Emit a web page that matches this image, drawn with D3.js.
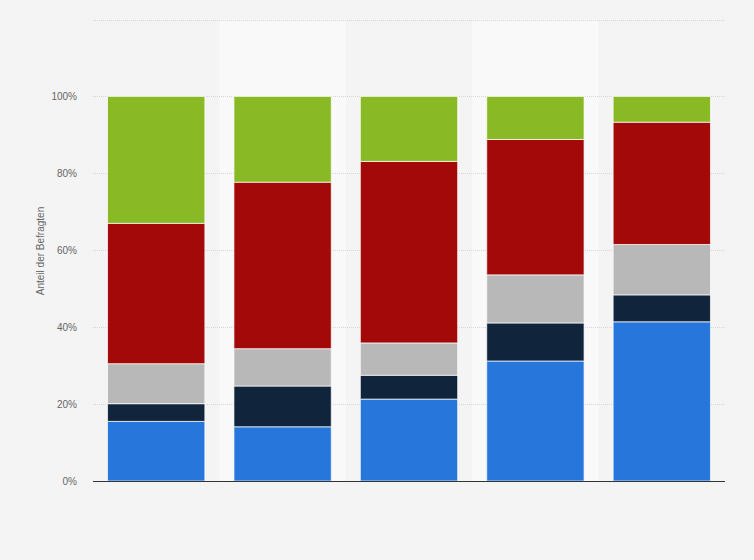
<!DOCTYPE html>
<html>
<head>
  <script src="https://d3js.org/d3.v7.min.js"></script>
  <style>
    body { margin: 0; background: #f4f4f4; }
    text { font-family: "Liberation Sans", Arial, sans-serif; }
  </style>
</head>
<body>
  <svg id="canvas" width="754" height="560"></svg>
  <script>
    // categories have no visible labels in the chart
    const categories = ["A", "B", "C", "D", "E"];
    const seriesNames = ["s1", "s2", "s3", "s4", "s5"];
    const seriesColors = ["#2776dc", "#10253b", "#b8b8b8", "#a30909", "#89b924"];
    // shares in percent, bottom to top
    const s1 = [15.5, 14.1, 21.3, 31.2, 41.4];
    const s2 = [4.6, 10.6, 6.2, 9.9, 7.0];
    const s3 = [10.4, 9.7, 8.4, 12.5, 13.1];
    const s4 = [36.5, 43.3, 47.2, 35.2, 31.8];
    const s5 = [33.0, 22.3, 16.9, 11.2, 6.7];
    const yTicks = [0, 20, 40, 60, 80, 100];

    const svg = d3.select("#canvas");
    const margin = { left: 93, right: 29, top: 19.5, bottom: 79 };
    const width = +svg.attr("width");
    const height = +svg.attr("height");

    const rows = categories.map((c, i) => ({
      cat: c, s1: s1[i], s2: s2[i], s3: s3[i], s4: s4[i], s5: s5[i]
    }));
    const stack = d3.stack().keys(seriesNames)(rows);

    const x = d3.scaleBand()
      .domain(categories)
      .range([margin.left, width - margin.right])
      .paddingInner(0.23)
      .paddingOuter(0.115);
    const y = d3.scaleLinear()
      .domain([0, 120])
      .range([height - margin.bottom, margin.top]);

    // alternating column bands
    const step = x.step();
    svg.append("g")
      .selectAll("rect")
      .data(categories.filter((d, i) => i % 2 === 1))
      .enter()
      .append("rect")
      .attr("x", d => x(d) - x.paddingOuter() * step)
      .attr("y", y(120))
      .attr("width", step)
      .attr("height", y(0) - y(120))
      .attr("fill", "#f9f9f9");

    // grid lines
    svg.append("g")
      .selectAll("line")
      .data(yTicks.concat([120]))
      .enter()
      .append("line")
      .attr("x1", margin.left)
      .attr("x2", width - margin.right)
      .attr("y1", d => Math.round(y(d)) + 0.5)
      .attr("y2", d => Math.round(y(d)) + 0.5)
      .attr("stroke", "#d6d6d6")
      .attr("stroke-dasharray", "1,1");

    // y axis labels
    const yAxis = d3.axisLeft(y).tickValues(yTicks).tickFormat(d => d + "%").tickSize(0).tickPadding(16);
    svg.append("g")
      .attr("transform", `translate(${margin.left},0)`)
      .call(yAxis)
      .call(g => g.select(".domain").remove())
      .call(g => g.selectAll("text")
        .attr("fill", "#666")
        .style("font-size", "10px")
        .style("font-family", "'Liberation Sans', Arial, sans-serif"));

    // bars
    svg.append("g")
      .selectAll("g")
      .data(stack)
      .enter()
      .append("g")
      .attr("fill", (d, i) => seriesColors[i])
      .selectAll("rect")
      .data(d => d)
      .enter()
      .append("rect")
      .attr("x", d => x(d.data.cat))
      .attr("y", d => y(d[1]))
      .attr("width", x.bandwidth())
      .attr("height", d => y(d[0]) - y(d[1]))
      .attr("stroke", "#ffffff")
      .attr("stroke-opacity", 0.7)
      .attr("stroke-width", 1);

    // baseline
    svg.append("line")
      .attr("x1", margin.left)
      .attr("x2", width - margin.right)
      .attr("y1", y(0) + 0.5)
      .attr("y2", y(0) + 0.5)
      .attr("stroke", "#333")
      .attr("stroke-width", 1.2);

    // y title
    svg.append("text")
      .attr("transform", `translate(44,${(y(0) + y(0)) / 2 - 230}) rotate(-90)`)
      .attr("text-anchor", "middle")
      .attr("fill", "#666")
      .style("font-size", "10px")
      .text("Anteil der Befragten");
  </script>
</body>
</html>
